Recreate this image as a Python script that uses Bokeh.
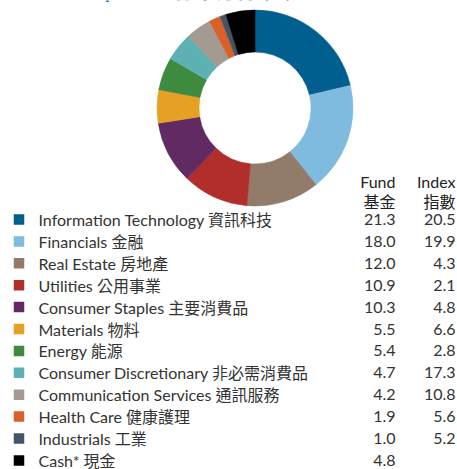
import numpy as np
from bokeh.plotting import figure
from bokeh.models import ColumnDataSource, Range1d
from bokeh.core.properties import value
from bokeh.embed import file_html
from bokeh.resources import INLINE

W, H = 457, 469

title = "Sector Exposure 行業分佈 (%)"
sectors = [
    "Information Technology 資訊科技",
    "Financials 金融",
    "Real Estate 房地產",
    "Utilities 公用事業",
    "Consumer Staples 主要消費品",
    "Materials 物料",
    "Energy 能源",
    "Consumer Discretionary 非必需消費品",
    "Communication Services 通訊服務",
    "Health Care 健康護理",
    "Industrials 工業",
    "Cash* 現金",
]
fund = [21.3, 18.0, 12.0, 10.9, 10.3, 5.5, 5.4, 4.7, 4.2, 1.9, 1.0, 4.8]
index = ["20.5", "19.9", "4.3", "2.1", "4.8", "6.6", "2.8", "17.3", "10.8", "5.6", "5.2", ""]
colors = ["#005f8f", "#7fbadf", "#937b69", "#b22e2a", "#622a63", "#e6a024",
          "#3e8a3e", "#5db1b2", "#a39a91", "#d8602a", "#435564", "#000000"]
headers_fund = ["Fund", "基金"]
headers_index = ["Index", "指數"]

FONT = value("Lato, Noto Sans CJK TC")
TXT = "#333333"

p = figure(width=W, height=H, x_range=Range1d(0, W), y_range=Range1d(0, H),
           output_backend="svg", toolbar_location=None, min_border=0,
           x_axis_type=None, y_axis_type=None)
p.grid.visible = False
p.outline_line_color = None

# donut
cum = np.concatenate([[0.0], np.cumsum(fund)])
frac = cum / cum[-1]
start = np.pi / 2 - 2 * np.pi * frac[:-1]
end = np.pi / 2 - 2 * np.pi * frac[1:]
cx, cy = 254.5, H - 107.5
wsrc = ColumnDataSource(dict(start=start, end=end, color=colors))
p.annular_wedge(x=cx, y=cy, inner_radius=56, outer_radius=98,
                start_angle="start", end_angle="end", direction="clock",
                fill_color="color", line_color="color", line_width=0.5, source=wsrc)

# title (cut off at top in the reference: only descenders visible)
p.text(x=[16], y=[H + 11], text=[title], text_font=FONT, text_font_size="21px",
       text_font_style="bold", text_color="#1d6fa9", text_baseline="alphabetic")

# legend table
row0, step = 219, 21.9
ys = [H - (row0 + i * step) for i in range(len(sectors))]
fund_txt = [f"{v:.1f}" for v in fund]
lsrc = ColumnDataSource(dict(y=ys, label=sectors, color=colors, f=fund_txt, ix=index))
p.rect(x=18.5, y="y", width=10.5, height=10.5, fill_color="color", line_color=None, source=lsrc)
p.text(x=38, y="y", text="label", text_font=FONT, text_font_size="16px", text_color=TXT,
       text_baseline="middle", source=lsrc)
p.text(x=395, y="y", text="f", text_font=FONT, text_font_size="16px", text_color=TXT,
       text_baseline="middle", text_align="right", source=lsrc)
p.text(x=455, y="y", text="ix", text_font=FONT, text_font_size="16px", text_color=TXT,
       text_baseline="middle", text_align="right", source=lsrc)

hy = [H - 181, H - 201]
p.text(x=395, y=hy, text=headers_fund, text_font=FONT, text_font_size="16px", text_color="#222222",
       text_baseline="middle", text_align="right")
p.text(x=455, y=hy, text=headers_index, text_font=FONT, text_font_size="16px", text_color="#222222",
       text_baseline="middle", text_align="right")

open("out.html", "w").write(file_html(p, INLINE))
